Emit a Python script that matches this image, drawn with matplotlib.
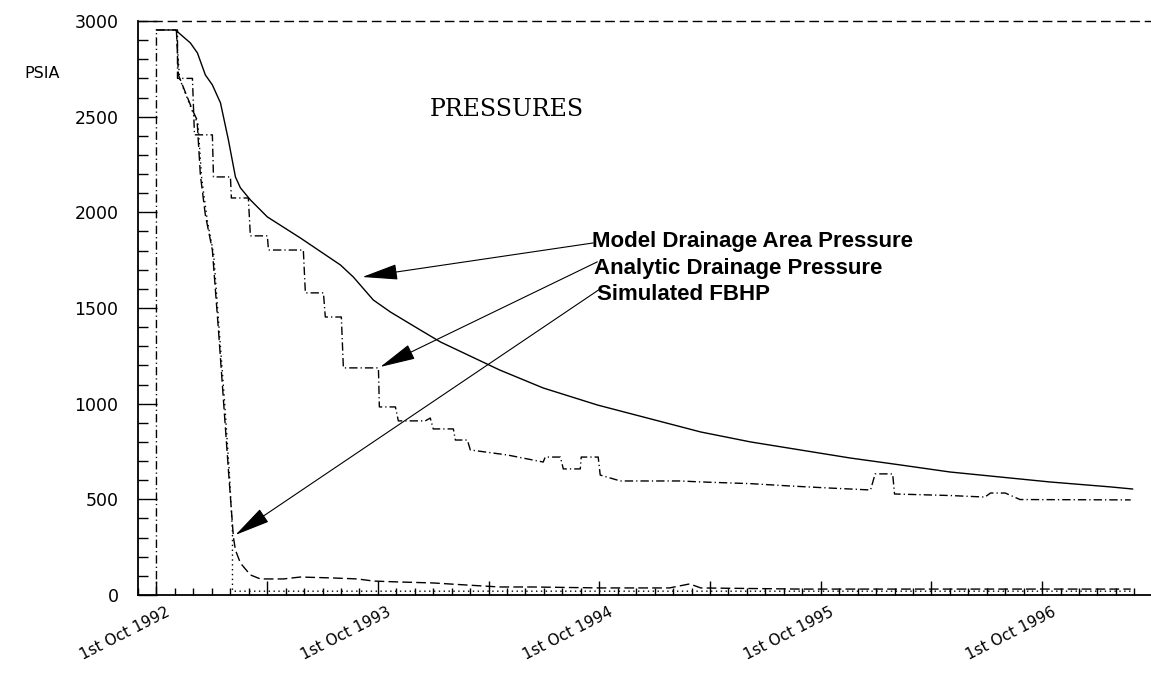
import numpy as np
import matplotlib
matplotlib.use("Agg")
import matplotlib.pyplot as plt
from matplotlib.ticker import MultipleLocator
from matplotlib.transforms import ScaledTranslation

# x = months after 1st Oct 1992
model_t = [0, 1.03, 1.84, 2.22, 2.65, 3.03, 3.47, 3.9, 4.28, 4.55, 5.09, 6.01, 7.8,
           9.97, 10.67, 11.75, 12.68, 14.3, 15.4, 18.6, 20.96, 23.9, 26.6, 29.5,
           32.2, 34.9, 37.6, 40.3, 43.0, 45.7, 48.4, 51.7, 52.9]
model_p = [2953, 2953, 2885, 2833, 2718, 2666, 2572, 2378, 2185, 2128, 2065, 1976, 1866,
           1725, 1662, 1542, 1479, 1385, 1322, 1176, 1082, 993, 925, 852,
           800, 758, 716, 680, 643, 617, 591, 565, 554]

analytic_t = [0, 0, 1.14, 1.14, 1.95, 2.06, 3.03, 3.09, 4.01, 4.06, 4.98, 5.09, 6.01,
              6.07, 7.96, 8.07, 9.05, 9.15, 10.02, 10.13, 12.03, 12.08, 12.95, 13.11,
              14.57, 14.84, 15.0, 16.09, 16.2, 16.85, 17.01, 19.01, 20.96, 21.07, 21.89,
              22.05, 22.97, 23.02, 23.94, 24.05, 25.14, 28.4, 29.5, 32.2, 34.3, 36.5,
              38.7, 38.95, 39.9, 40.0, 43.0, 44.9, 45.2, 46.0, 46.8, 52.8]
analytic_p = [0, 2953, 2953, 2700, 2700, 2405, 2405, 2185, 2185, 2075, 2075, 1877, 1877,
              1803, 1803, 1579, 1579, 1453, 1453, 1187, 1187, 983, 983, 910,
              910, 925, 868, 868, 810, 810, 758, 732, 695, 721, 721,
              659, 659, 721, 721, 627, 596, 596, 591, 582, 570, 559,
              549, 633, 633, 528, 520, 512, 533, 533, 499, 497]

fbhp_t = [1.08, 1.19, 1.95, 2.2, 2.38, 2.65, 3.03, 3.36, 3.63, 3.9, 4.17, 4.28, 4.55,
          5.09, 5.63, 6.88, 7.8, 9.59, 10.9, 11.75, 13.2, 15.0, 16.85, 18.6, 20.4,
          24.05, 27.8, 28.9, 29.5, 34.9, 40.3, 45.7, 52.8]
fbhp_p = [2953, 2718, 2535, 2483, 2195, 1986, 1803, 1385, 1019, 653, 303, 235, 167,
          105, 84, 84, 94, 89, 84, 73, 68, 63, 52, 42, 42,
          37, 37, 58, 37, 31, 31, 31, 31]

limit_t = [1.08, 1.25, 1.98, 2.25, 2.45, 2.75, 3.1, 3.42, 3.7, 3.95, 4.12, 4.12, 52.8]
limit_p = [2953, 2700, 2520, 2460, 2180, 1960, 1780, 1360, 1000, 640, 330, 20, 20]

tick_months = [0, 12, 24, 36, 48]
tick_labels = ["1st Oct 1992", "1st Oct 1993", "1st Oct 1994", "1st Oct 1995", "1st Oct 1996"]

fig = plt.figure(figsize=(11.51, 6.77), dpi=100)
ax = fig.add_axes([0.1199, 0.1211, 0.8801, 0.8479])

ax.plot(model_t, model_p, color="black", lw=1.0)
ax.plot(analytic_t, analytic_p, color="black", lw=1.0, dashes=(6, 2.2, 0.9, 2.2))
ax.plot(fbhp_t, fbhp_p, color="black", lw=1.0, dashes=(7, 3))
ax.plot(limit_t, limit_p, color="black", lw=1.0, dashes=(1, 2.5))

ax.set_xlim(-1, 53.9)
ax.set_ylim(0, 3000)

# dashed line along the top
ax.axhline(3000, color="black", lw=1.0, dashes=(7, 3.5), clip_on=False)

for s in ["top", "right"]:
    ax.spines[s].set_visible(False)
for s in ["left", "bottom"]:
    ax.spines[s].set_linewidth(1.3)

ax.yaxis.set_major_locator(MultipleLocator(500))
ax.yaxis.set_minor_locator(MultipleLocator(100))
ax.xaxis.set_minor_locator(MultipleLocator(1))
ax.tick_params(axis="y", which="major", direction="in", length=14, width=1, pad=14,
               labelsize=12.5)
ax.tick_params(axis="y", which="minor", direction="in", length=7, width=1)
ax.tick_params(axis="x", which="major", direction="in", length=10, width=1, pad=7,
               labelsize=11)
ax.tick_params(axis="x", which="minor", direction="in", length=5, width=1)

# 6-monthly major ticks, labels only on October
six = np.arange(0, 54, 6)
ax.set_xticks(six)
ax.set_xticklabels([tick_labels[tick_months.index(m)] if m in tick_months else ""
                    for m in six])
shift = ScaledTranslation(9 / 100, 0, fig.dpi_scale_trans)
for lab in ax.get_xticklabels():
    lab.set_rotation(27)
    lab.set_ha("right")
    lab.set_va("top")
    lab.set_rotation_mode("anchor")
    lab.set_transform(lab.get_transform() + shift)

fig.text(42 / 1151, 1 - 73 / 677, "PSIA", ha="center", va="center", fontsize=11.5)

ax.text(19.0, 2535, "PRESSURES", ha="center", va="center", fontsize=17,
        family="DejaVu Serif")

bold = dict(fontsize=16, fontweight="bold", family="Liberation Sans",
            ha="left", va="center")
ax.text(23.6, 1845, "Model Drainage Area Pressure", **bold)
ax.text(23.7, 1709, "Analytic Drainage Pressure", **bold)
ax.text(23.9, 1568, "Simulated FBHP", **bold)

arrow = dict(arrowstyle="-|>,head_length=1.5,head_width=0.33", color="black",
             lw=0.8, mutation_scale=15, shrinkA=0, shrinkB=0)
ax.annotate("", xy=(11.16, 1662), xytext=(23.67, 1840), arrowprops=arrow)
ax.annotate("", xy=(12.13, 1192), xytext=(23.89, 1741), arrowprops=arrow)
ax.annotate("", xy=(4.28, 314), xytext=(24.05, 1600), arrowprops=arrow)

fig.savefig("out.png", dpi=100)
